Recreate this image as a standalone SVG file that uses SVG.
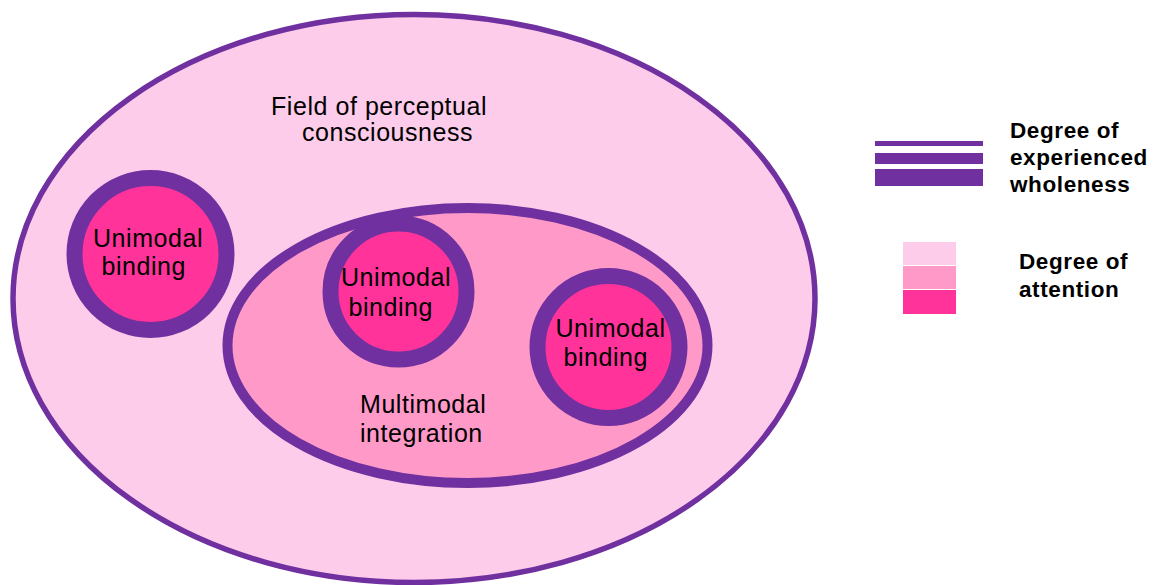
<svg xmlns="http://www.w3.org/2000/svg" width="1159" height="585" viewBox="0 0 1159 585">
<style>
.lbl{font-family:"Liberation Sans",Arial,sans-serif;font-size:25px;letter-spacing:0.55px;fill:#000}
.leg{font-family:"Liberation Sans",Arial,sans-serif;font-size:22.5px;font-weight:bold;letter-spacing:0.6px;fill:#000}
.ring{fill:#FF3399;stroke:#7030A0;stroke-width:16}
</style>
<rect width="1159" height="585" fill="#FFFFFF"/>
<g id="field">
<ellipse cx="414" cy="298.5" rx="401" ry="284" fill="#FDCCEA" stroke="#7030A0" stroke-width="5.5"/>
<text class="lbl" x="271" y="114.5">Field of perceptual</text>
<text class="lbl" x="302" y="140.5">consciousness</text>
</g>
<g id="unimodal-left">
<circle class="ring" cx="150.5" cy="254" r="76"/>
<text class="lbl" x="93" y="246.5">Unimodal</text>
<text class="lbl" x="101.5" y="275">binding</text>
</g>
<g id="multimodal">
<ellipse cx="467.5" cy="345.5" rx="240" ry="137.5" fill="#FF99C8" stroke="#7030A0" stroke-width="10"/>
<text class="lbl" x="360" y="412.7">Multimodal</text>
<text class="lbl" x="360" y="441.5">integration</text>
</g>
<g id="unimodal-mid">
<circle class="ring" cx="398.5" cy="291.5" r="68"/>
<text class="lbl" x="341" y="286">Unimodal</text>
<text class="lbl" x="348.5" y="315.5">binding</text>
</g>
<g id="unimodal-right">
<circle class="ring" cx="608.5" cy="347" r="71"/>
<text class="lbl" x="555.5" y="336.5">Unimodal</text>
<text class="lbl" x="563.5" y="366">binding</text>
</g>
<g id="connectors"></g>
<g id="legend-wholeness">
<rect x="875" y="141" width="108" height="5" fill="#7030A0"/>
<rect x="875" y="153" width="108" height="11" fill="#7030A0"/>
<rect x="875" y="169" width="108" height="17" fill="#7030A0"/>
<text class="leg" x="1010" y="138">Degree of</text>
<text class="leg" x="1010" y="165">experienced</text>
<text class="leg" x="1010" y="192">wholeness</text>
</g>
<g id="legend-attention">
<rect x="903" y="242" width="53" height="23" fill="#FDCCEA"/>
<rect x="903" y="266" width="53" height="23" fill="#FF99C8"/>
<rect x="903" y="290" width="53" height="24" fill="#FF3399"/>
<text class="leg" x="1019" y="268.5">Degree of</text>
<text class="leg" x="1019" y="296.5">attention</text>
</g>
</svg>
